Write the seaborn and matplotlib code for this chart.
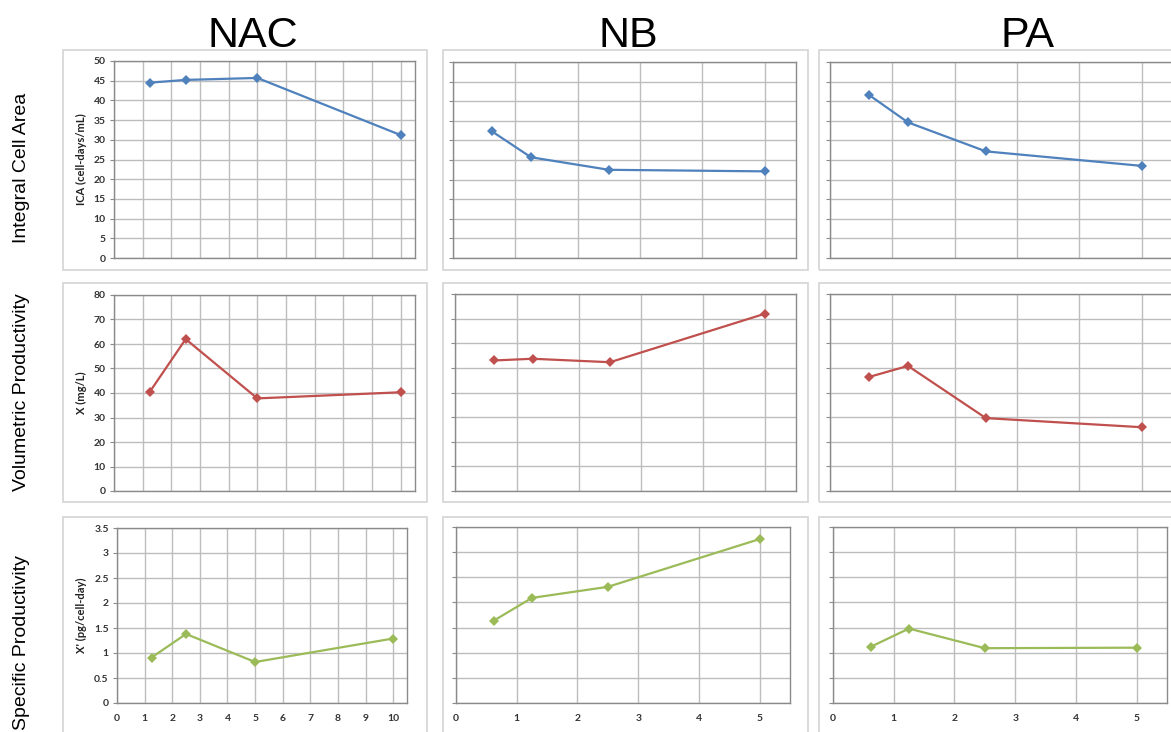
import matplotlib
matplotlib.use("Agg")
import matplotlib.pyplot as plt
from matplotlib.patches import Rectangle
import seaborn as sns
import pandas as pd
import numpy as np

# ---------------- data ----------------
columns = ["NAC", "NB", "PA"]
row_labels = ["Integral Cell Area", "Volumetric Productivity", "Specific Productivity"]
y_labels = ["ICA (cell-days/mL)", "X (mg/L)", "X' (pg/cell-day)"]

x_nac = [1.25, 2.5, 5, 10]
x_nb = [0.625, 1.25, 2.5, 5]
x_pa = [0.625, 1.25, 2.5, 5]

ica_nac = [44.5, 45.2, 45.7, 31.2]
ica_nb = [32.3, 25.7, 22.5, 22.1]
ica_pa = [41.6, 34.6, 27.2, 23.5]

vol_nac = [40.5, 62.0, 37.8, 40.3]
vol_nb = [53.0, 53.7, 52.3, 72.0]
vol_pa = [46.3, 50.8, 29.6, 25.9]

spec_nac = [0.91, 1.38, 0.82, 1.29]
spec_nb = [1.64, 2.09, 2.31, 3.26]
spec_pa = [1.12, 1.48, 1.09, 1.10]

x_ticks_nac = [0, 1, 2, 3, 4, 5, 6, 7, 8, 9, 10]
x_ticks_small = [0, 1, 2, 3, 4, 5]
y_ticks = [
    [0, 5, 10, 15, 20, 25, 30, 35, 40, 45, 50],
    [0, 10, 20, 30, 40, 50, 60, 70, 80],
    [0, 0.5, 1, 1.5, 2, 2.5, 3, 3.5],
]
y_tick_labels = [
    ["0", "5", "10", "15", "20", "25", "30", "35", "40", "45", "50"],
    ["0", "10", "20", "30", "40", "50", "60", "70", "80"],
    ["0", "0.5", "1", "1.5", "2", "2.5", "3", "3.5"],
]
x_limits = [10.5, 5.5, 5.5]

xs = [x_nac, x_nb, x_pa]
values = [
    [ica_nac, ica_nb, ica_pa],
    [vol_nac, vol_nb, vol_pa],
    [spec_nac, spec_nb, spec_pa],
]
row_colors = ["#4F81BD", "#C0504D", "#9BBB59"]

# ---------------- style ----------------
sns.set_style("white")
plt.rcParams["font.family"] = ["Liberation Sans", "DejaVu Sans"]

W, H = 1171, 732
fig = plt.figure(figsize=(W / 100, H / 100), dpi=100)
fig.patch.set_facecolor("white")

def rect(l, t, r, b):
    return [l / W, 1 - b / H, (r - l) / W, (b - t) / H]

# plot-area pixel boxes (left, top, right, bottom)
plot_boxes = [
    [(114, 61, 415, 258), (453, 62, 796, 258), (830, 62, 1173, 258)],
    [(114, 295, 415, 491), (455, 294, 796, 491), (830, 294, 1173, 491)],
    [(117, 528, 407, 703), (456, 527, 790, 703), (833, 527, 1167, 703)],
]
frame_boxes = [
    [(63, 50, 427, 270), (443, 50, 808, 270), (819, 50, 1190, 270)],
    [(63, 283, 427, 502), (443, 283, 808, 502), (819, 283, 1190, 502)],
    [(63, 517, 427, 745), (443, 517, 808, 745), (819, 517, 1190, 745)],
]

# chart frames
for r in range(3):
    for c in range(3):
        l, t, rr, b = frame_boxes[r][c]
        fig.patches.append(Rectangle((l / W, 1 - b / H), (rr - l) / W, (b - t) / H,
                                     transform=fig.transFigure, fill=False,
                                     edgecolor="#D4D4D4", linewidth=1.2, zorder=0))

tick_font = dict(family=["Lato", "DejaVu Sans"], weight="bold", size=7.5)

for r in range(3):
    for c in range(3):
        ax = fig.add_axes(rect(*plot_boxes[r][c]))
        df = pd.DataFrame({"x": xs[c], "y": values[r][c]})
        sns.lineplot(data=df, x="x", y="y", ax=ax, color=row_colors[r],
                     marker="D", markersize=5.5, markeredgewidth=0,
                     linewidth=1.6, sort=False, zorder=3)
        ax.set_xlim(0, x_limits[c])
        yt = y_ticks[r]
        ax.set_ylim(yt[0], yt[-1])
        ax.set_yticks(yt)
        xt = x_ticks_nac if c == 0 else x_ticks_small
        ax.set_xticks(xt)
        ax.grid(True, color="#BDBDBD", linewidth=1.0)
        ax.set_axisbelow(True)
        for s in ax.spines.values():
            s.set_color("#8A8A8A")
            s.set_linewidth(1.0)
        ax.tick_params(axis="y", which="major", length=3, width=0.8,
                       color="#8A8A8A", left=True, direction="out", pad=3)
        ax.tick_params(axis="x", which="major", length=0, pad=8)
        ax.set_xlabel("")
        ax.set_ylabel("")
        if c == 0:
            ax.set_yticklabels(y_tick_labels[r], fontdict=tick_font, color="#333333")
            ax.set_ylabel(y_labels[r], fontdict=dict(family=["Lato", "DejaVu Sans"],
                                                     weight="bold", size=8),
                          color="#222222", labelpad=5)
        else:
            ax.set_yticklabels([])
        if r == 2:
            ax.set_xticklabels([str(v) for v in xt], fontdict=tick_font, color="#333333")
        else:
            ax.set_xticklabels([])
        ax.set_facecolor("white")

# column titles
for c, (name, cx) in enumerate(zip(columns, [253, 628, 1027])):
    fig.text(cx / W, 1 - 36 / H, name, ha="center", va="center", fontsize=31,
             color="black")

# row labels
for r, (name, cy) in enumerate(zip(row_labels, [168, 392, 643])):
    fig.text(22 / W, 1 - cy / H, name, ha="center", va="center", rotation=90,
             fontsize=14, color="black")

fig.savefig("out.png", dpi=100, facecolor="white")
